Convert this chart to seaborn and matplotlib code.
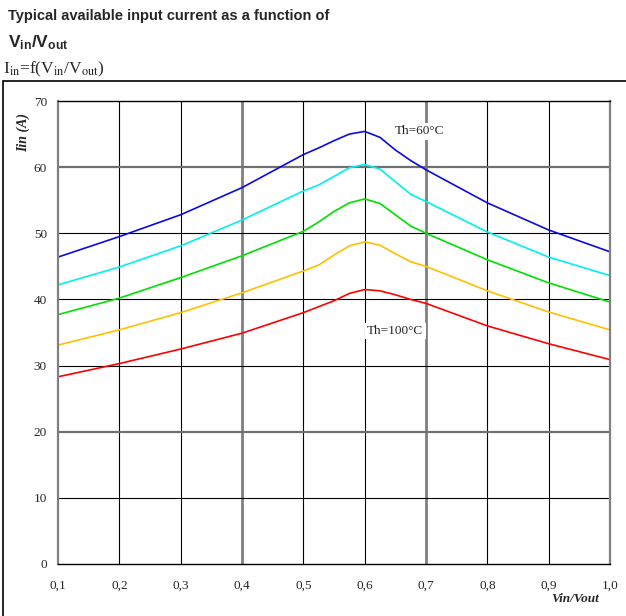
import numpy as np
import pandas as pd
import matplotlib
matplotlib.use("Agg")
import matplotlib.pyplot as plt
import seaborn as sns
from matplotlib.patches import Rectangle

# Vin/Vout ratio and available input current (A) per heatsink temperature
ratio = [0.1, 0.2, 0.3, 0.4, 0.5, 0.525, 0.55, 0.575, 0.6, 0.625, 0.65, 0.675,
         0.7, 0.8, 0.9, 1.0]
i_60 = [46.4, 49.5, 52.8, 56.9, 61.9, 62.9, 64.0, 65.0, 65.4, 64.5, 62.6, 61.0,
        59.6, 54.6, 50.5, 47.2]
i_70 = [42.2, 44.9, 48.1, 52.0, 56.4, 57.3, 58.6, 59.9, 60.4, 59.7, 57.8, 55.9,
        54.8, 50.2, 46.4, 43.6]
i_80 = [37.7, 40.2, 43.3, 46.6, 50.3, 51.7, 53.3, 54.6, 55.2, 54.5, 52.8, 51.1,
        50.0, 46.0, 42.5, 39.6]
i_90 = [33.1, 35.4, 38.0, 41.0, 44.3, 45.2, 46.7, 48.1, 48.7, 48.2, 46.9, 45.7,
        45.0, 41.3, 38.1, 35.4]
i_100 = [28.3, 30.3, 32.5, 34.9, 38.0, 38.9, 39.8, 40.9, 41.5, 41.3, 40.7, 40.0,
         39.4, 36.0, 33.3, 30.9]
temps = ["60", "70", "80", "90", "100"]
colors = ["#0a0ae6", "#00f0f0", "#00e000", "#ffc000", "#ff0000"]

x_ticks = [0.1, 0.2, 0.3, 0.4, 0.5, 0.6, 0.7, 0.8, 0.9, 1.0]
x_labels = ["0,1", "0,2", "0,3", "0,4", "0,5", "0,6", "0,7", "0,8", "0,9", "1,0"]
y_ticks = [0, 10, 20, 30, 40, 50, 60, 70]

series = [i_60, i_70, i_80, i_90, i_100]
df = pd.concat([pd.DataFrame({"ratio": ratio, "current": s, "Th": t})
                for s, t in zip(series, temps)], ignore_index=True)

sns.set_style("white")
plt.rcParams["mathtext.fontset"] = "custom"
plt.rcParams["mathtext.rm"] = "Liberation Sans:bold"
plt.rcParams["mathtext.it"] = "Liberation Sans:bold"
plt.rcParams["mathtext.bf"] = "Liberation Sans:bold"
serif = "Liberation Serif"

fig = plt.figure(figsize=(6.26, 6.16), dpi=100)
ax = fig.add_axes([58 / 626, 52 / 616, 552 / 626, 463 / 616])

sns.lineplot(data=df, x="ratio", y="current", hue="Th", palette=colors,
             legend=False, linewidth=1.2, ax=ax)

ax.set_xlim(0.1, 1.0)
ax.set_ylim(0, 70)
ax.set_xticks(x_ticks)
ax.set_xticklabels(x_labels, family=serif, fontsize=9.5)
ax.set_yticks(y_ticks)
ax.set_yticklabels([str(v) for v in y_ticks], family=serif, fontsize=9.5)
ax.tick_params(length=0)
ax.tick_params(axis="x", pad=11)
ax.tick_params(axis="y", pad=8)
ax.set_xlabel("")
ax.set_ylabel("")

# grid: a few lines drawn grey and heavier like the original
for v in x_ticks[1:-1]:
    grey = v in (0.4, 0.7)
    ax.axvline(v, color="#808080" if grey else "black",
               lw=2.0 if grey else 0.8, zorder=0)
for v in y_ticks[1:-1]:
    grey = v in (20, 60)
    ax.axhline(v, color="#707070" if grey else "black",
               lw=1.6 if grey else 0.8, zorder=0)
for side in ["left", "right"]:
    ax.spines[side].set_color("#808080")
    ax.spines[side].set_linewidth(1.6)
for side in ["top", "bottom"]:
    ax.spines[side].set_color("black")
    ax.spines[side].set_linewidth(1.0)

box = dict(facecolor="white", edgecolor="none", pad=1.5)
ax.text(0.69, 65.4, "Th=60°C", family=serif, fontsize=9.5,
        ha="center", va="center", bbox=box, zorder=3)
ax.text(0.65, 35.2, "Th=100°C", family=serif, fontsize=9.5,
        ha="center", va="center", bbox=box, zorder=3)

fig.text(23 / 626, 1 - 132 / 616, "Iin (A)", family=serif, fontsize=10,
         fontweight="bold", style="italic", rotation=90,
         ha="center", va="center")
fig.text(575 / 626, 1 - 599 / 616, "Vin/Vout", family=serif, fontsize=9.5,
         fontweight="bold", style="italic", ha="center", va="center")

# header
fig.text(8 / 626, 1 - 20 / 616, "Typical available input current as a function of",
         family="Liberation Sans", fontweight="bold", fontsize=10.5,
         ha="left", va="baseline")
fig.text(8 / 626, 1 - 47 / 616, r"$\mathrm{V_{in}/V_{out}}$",
         math_fontfamily="custom", fontsize=12.5, ha="left", va="baseline")
fig.text(3 / 626, 1 - 73 / 616,
         r"I$\mathrm{_{in}}$=f(V$\mathrm{_{in}}$/V$\mathrm{_{out}}$)",
         family=serif, math_fontfamily="stix", fontsize=12.5,
         ha="left", va="baseline")

fig.patches.append(Rectangle((3 / 626, -0.1), 1.2, 0.1 + (616 - 81) / 616,
                             transform=fig.transFigure, fill=False,
                             edgecolor="black", lw=1.2))

fig.savefig("out.png", dpi=100)
